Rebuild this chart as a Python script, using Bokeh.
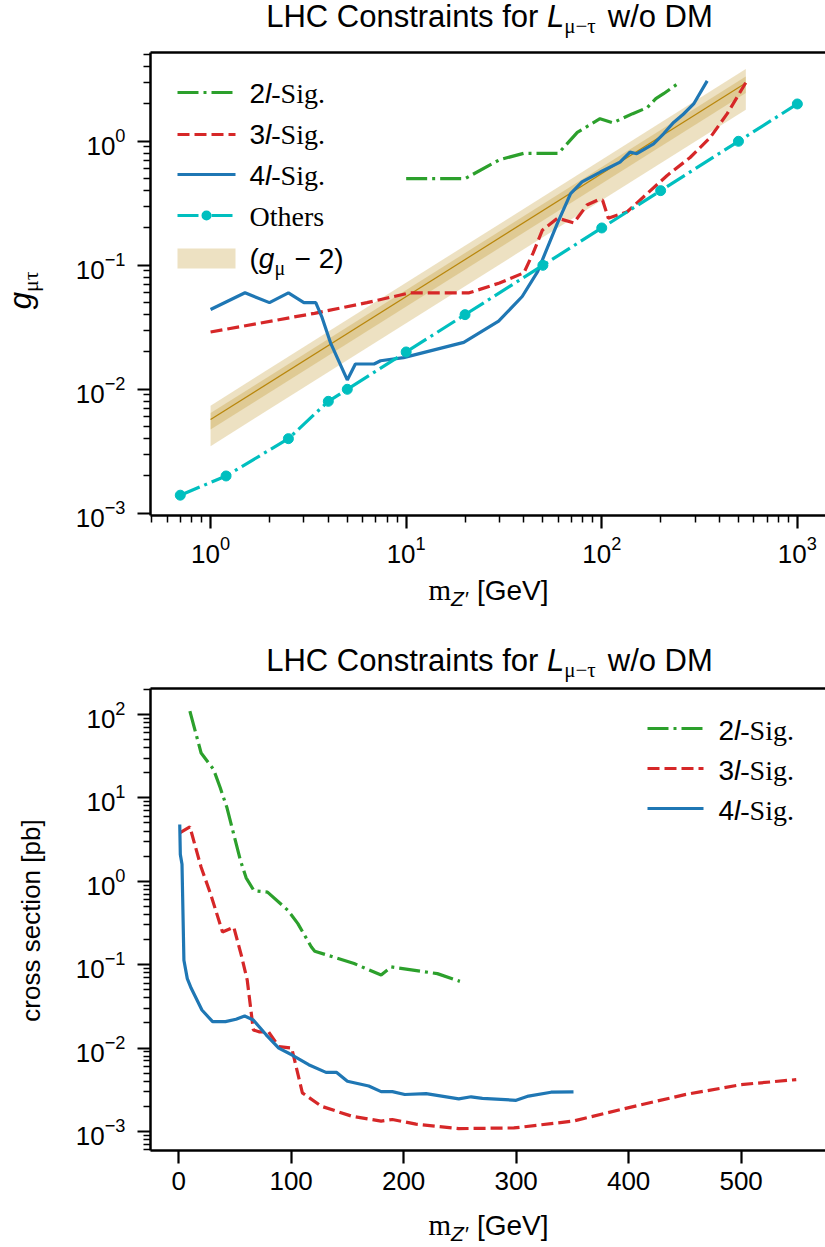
import math
from bokeh.plotting import figure
from bokeh.models import (Label, Arrow, BoxAnnotation, LogAxis, LinearAxis, FixedTicker, Range1d)
from bokeh.layouts import column, row
from bokeh.embed import file_html
from bokeh.resources import INLINE

# ---------------- data: top panel (coupling g_mu_tau vs m_Z') ----------------
top_2l_m = [10, 20, 30, 40, 60, 75, 98, 114, 144, 171, 189, 207, 248]
top_2l_g = [0.5, 0.5, 0.71, 0.8, 0.8, 1.18, 1.52, 1.41, 1.67, 1.87, 2.21, 2.42, 2.96]

top_3l_m = [1, 3.4, 6.3, 10.5, 21, 30, 40, 44.6, 49.7, 59.5, 72, 84, 95, 101, 108, 135, 171, 216, 283, 358, 438, 545]
top_3l_g = [0.029, 0.041, 0.050, 0.060, 0.060, 0.072, 0.087, 0.126, 0.192, 0.240, 0.220, 0.306, 0.335, 0.335,
            0.240, 0.270, 0.380, 0.530, 0.740, 1.07, 1.67, 2.97]

top_4l_m = [1, 1.5, 2, 2.5, 3, 3.45, 3.7, 4.1, 5, 5.5, 6.85, 7.4, 9.7, 19.7, 29.7, 39.2, 47, 59.3, 69.3, 79.3,
            98.4, 124, 139.5, 151, 184, 207, 233, 262, 295, 346]
top_4l_g = [0.044, 0.060, 0.050, 0.060, 0.050, 0.050, 0.0386, 0.0238, 0.0119, 0.016, 0.016, 0.017, 0.018, 0.0239,
            0.0354, 0.056, 0.089, 0.218, 0.379, 0.470, 0.565, 0.68, 0.818, 0.794, 0.955, 1.15, 1.42, 1.66, 2.0, 3.07]

others_m = [0.7, 1.2, 2.5, 4, 5, 10, 20, 50, 100, 200, 500, 1000]
others_g = [0.0014, 0.002, 0.004, 0.008, 0.01, 0.02, 0.04, 0.1, 0.2, 0.4, 1.0, 2.0]

gm2_m = [1, 545]
gm2_central = [0.0057, 2.95]
gm2_1s_lo = [0.00473, 2.45]
gm2_1s_hi = [0.00644, 3.33]
gm2_2s_lo = [0.00348, 1.80]
gm2_2s_hi = [0.00738, 3.82]

# ---------------- data: bottom panel (cross section vs m_Z') ----------------
bot_2l_m = [10, 20, 31, 37, 43, 55, 60, 67, 79, 97, 106, 118, 121, 156, 180, 189, 230, 250]
bot_2l_xs = [110, 34.5, 22, 13.2, 7.6, 1.76, 1.1, 0.77, 0.74, 0.45, 0.31, 0.163, 0.145, 0.103, 0.075, 0.094,
             0.078, 0.063]

bot_3l_m = [1, 10, 20, 28.5, 39, 49, 55.7, 61, 66.4, 72, 80, 89, 100.5, 110, 127, 154, 180, 190, 211, 249, 298,
            351, 393, 450, 500, 549]
bot_3l_xs = [3.8, 4.5, 1.47, 0.70, 0.246, 0.282, 0.13, 0.065, 0.0165, 0.0156, 0.0156, 0.0104, 0.0100, 0.0029,
             0.0020, 0.00152, 0.00133, 0.00139, 0.00122, 0.00108, 0.00110, 0.00133, 0.00183, 0.00276, 0.00364,
             0.00418]

bot_4l_m = [1, 1.5, 3, 4.7, 7.7, 11.2, 20.7, 30.2, 41.6, 51, 58.7, 66.4, 77.8, 89, 100.5, 115.6, 131, 140.5, 150,
            169, 180, 190, 201, 220, 249, 260, 270, 300, 311, 331, 351]
bot_4l_xs = [4.8, 2.1, 1.6, 0.113, 0.068, 0.052, 0.0286, 0.0207, 0.0207, 0.0221, 0.0242, 0.0217, 0.0144, 0.00997,
             0.0083, 0.0063, 0.0051, 0.0051, 0.0040, 0.0035, 0.0030, 0.0030, 0.00277, 0.00284, 0.00246, 0.0026,
             0.00249, 0.00236, 0.00265, 0.00295, 0.00298]

bot_x_ticks = [0, 100, 200, 300, 400, 500]

GREEN = "#2ca02c"
RED = "#d62728"
BLUE = "#1f77b4"
CYAN = "#00bfbf"
GOLD = "#b8860b"
DASHDOT = "21 5 3 5"
DASHED = "12 5"

SANS = "Liberation Sans"
SERIF = "Liberation Serif"
TICK_PX = "26px"
MID = 0.35   # distance (in em) between the alphabetic baseline and the "middle" anchor

SANS_W = {' ': 278, '(': 333, ')': 333, '-': 333, '.': 278, '/': 278, '[': 278, ']': 278, 'C': 722, 'D': 722,
          'G': 778, 'H': 722, 'L': 556, 'M': 833, 'V': 667, 'Z': 611, 'S': 667, 'a': 556, 'b': 556, 'c': 500,
          'e': 556, 'f': 278, 'g': 556, 'i': 222, 'l': 222, 'm': 833, 'n': 556, 'o': 556, 'p': 556, 'r': 333,
          's': 500, 't': 278, 'w': 722, '\u2212': 584, '\u2032': 250, '\u03bc': 576, '\u03c4': 440}
SERIF_W = {' ': 250, '-': 333, 'S': 556, 'i': 278, 'g': 500, '.': 250, 'O': 722, 't': 278, 'h': 500, 'e': 444,
           'r': 333, 's': 389, 'm': 778, '\u03bc': 620, '\u03c4': 480, '\u2212': 564}


def text_width(s, fam, size):
    table = SERIF_W if fam == "serif" else SANS_W
    return sum(table.get(ch, 556) for ch in s) / 1000.0 * size


def rich_text(p, pieces, x, y, align="center", vertical=False):
    """pieces: (text, family, style, size_px, baseline_shift_down_px); (x, y) = baseline start in canvas px."""
    widths = [text_width(t, fam, sz) for (t, fam, st, sz, sh) in pieces]
    total = sum(widths)
    pos = -total / 2.0 if align == "center" else 0.0
    for (t, fam, st, sz, sh), w in zip(pieces, widths):
        font = SERIF if fam == "serif" else SANS
        up = sh - MID * sz
        if vertical:
            lx, ly, ang = x + up, y - pos, math.pi / 2
        else:
            lx, ly, ang = x + pos, y + up, 0.0
        p.add_layout(Label(x=lx, y=ly, x_units="canvas", y_units="canvas", text=t.replace(" ", "\u00a0"),
                           text_font=font, text_font_style=st, text_font_size=f"{sz}px",
                           text_baseline="middle", text_align="left", angle=ang, text_color="black"))
        pos += w


def strip(w, h):
    s = figure(width=w, height=h, x_range=Range1d(0, w), y_range=Range1d(0, h), toolbar_location=None,
               output_backend="svg", min_border=0, x_axis_location=None, y_axis_location=None, title=None)
    s.outline_line_color = None
    s.xgrid.visible = False
    s.ygrid.visible = False
    return s


def style_axis(ax, major, minor, standoff):
    ax.ticker = FixedTicker(ticks=major, minor_ticks=minor)
    ax.axis_line_width = 2.5
    ax.axis_line_color = "black"
    ax.major_tick_line_width = 2.2
    ax.minor_tick_line_width = 1.5
    ax.major_tick_out = 13
    ax.major_tick_in = 0
    ax.minor_tick_out = 7
    ax.minor_tick_in = 0
    ax.major_label_text_font = SANS
    ax.major_label_text_font_size = TICK_PX
    ax.major_label_text_color = "black"
    ax.major_label_standoff = standoff


def decade_minors(lo, hi):
    return [k * 10.0 ** e for e in range(lo, hi) for k in range(2, 10)]


def top_spine(p, axis_cls):
    ax = axis_cls(ticker=FixedTicker(ticks=[], minor_ticks=[]), axis_line_width=2.5, axis_line_color="black",
                  major_tick_line_color=None, minor_tick_line_color=None, major_tick_out=0, minor_tick_out=0,
                  major_tick_in=0, minor_tick_in=0, major_label_standoff=0)
    p.add_layout(ax, "above")


def legend_entry(p, y_line, y_base, x0, x1, xt, color, dash, label_pieces, marker=False, patch=False):
    if patch:
        p.add_layout(BoxAnnotation(left=x0, right=x1, top=y_line - 10, bottom=y_line + 10,
                                   left_units="canvas", right_units="canvas", top_units="canvas",
                                   bottom_units="canvas", fill_color=GOLD, fill_alpha=0.25, line_color=None))
    else:
        p.add_layout(Arrow(end=None, x_start=x0, y_start=y_line, x_end=x1, y_end=y_line,
                           start_units="canvas", end_units="canvas", line_color=color, line_width=3.2,
                           line_dash=dash))
        if marker:
            xm = (x0 + x1) / 2.0
            p.add_layout(BoxAnnotation(left=xm - 5, right=xm + 5, top=y_line - 5, bottom=y_line + 5,
                                       left_units="canvas", right_units="canvas", top_units="canvas",
                                       bottom_units="canvas", fill_color=color, fill_alpha=1.0,
                                       line_color=None, border_radius=5))
    rich_text(p, label_pieces, xt, y_base, align="left")


def sig_label(n, size):
    return [(n, "sans", "normal", size, 0), ("l", "sans", "italic", size, 0), ("-Sig.", "serif", "normal", size, 0)]


def title_pieces():
    return [("LHC Constraints for ", "sans", "normal", 31, 0), ("L", "sans", "italic", 31, 0),
            ("\u03bc\u2212\u03c4", "serif", "normal", 21, 6), (" w/o DM", "sans", "normal", 31, 0)]


def xlabel_pieces():
    return [("m", "serif", "normal", 29, 0), ("Z\u2032", "sans", "italic", 21, 5),
            (" [GeV]", "sans", "normal", 28, 0)]


LEFT_W = 50           # width of the y-label strip
TOP1_H = 50           # title strip above the upper panel
TOP2_H = 61           # title strip above the lower panel
P1_H = 522            # upper plot canvas (frame 52..515, tick labels below)
X1_H = 625 - TOP1_H - P1_H
P2_H = 519            # lower plot canvas (frame 688..1150, tick labels below)
X2_H = 622 - TOP2_H - P2_H

# ============================ top panel ============================
t1 = strip(825, TOP1_H)
rich_text(t1, title_pieces(), 489, 27)

p1 = figure(width=825 - LEFT_W, height=P1_H, x_axis_type="log", y_axis_type="log",
            x_range=Range1d(0.493, 1393), y_range=Range1d(9.6e-4, 5.2),
            toolbar_location=None, output_backend="svg", title=None,
            min_border_left=150 - LEFT_W, min_border_right=0, min_border_top=2,
            min_border_bottom=P1_H - 2 - 463)
p1.outline_line_color = None
p1.xgrid.grid_line_color = None
p1.ygrid.grid_line_color = None
style_axis(p1.below[0], [1, 10, 100, 1000], decade_minors(-1, 4), 7)
style_axis(p1.left[0], [1e-3, 1e-2, 1e-1, 1], decade_minors(-4, 1), 12)
top_spine(p1, LogAxis)

p1.varea(x=gm2_m, y1=gm2_2s_lo, y2=gm2_2s_hi, fill_color=GOLD, fill_alpha=0.25)
p1.varea(x=gm2_m, y1=gm2_1s_lo, y2=gm2_1s_hi, fill_color=GOLD, fill_alpha=0.25)
p1.line(gm2_m, gm2_central, line_color=GOLD, line_width=1.2)

p1.line(top_2l_m, top_2l_g, line_color=GREEN, line_width=3.2, line_dash=DASHDOT)
p1.line(top_3l_m, top_3l_g, line_color=RED, line_width=3.2, line_dash=DASHED)
p1.line(top_4l_m, top_4l_g, line_color=BLUE, line_width=3.2)
p1.line(others_m, others_g, line_color=CYAN, line_width=3.2, line_dash=DASHDOT)
p1.scatter(others_m, others_g, size=10, fill_color=CYAN, line_color=CYAN)

ox, oy = LEFT_W, TOP1_H
LX0, LX1, LXT = 177 - ox, 235 - ox, 249 - ox
legend_entry(p1, 92 - oy, 103 - oy, LX0, LX1, LXT, GREEN, DASHDOT, sig_label("2", 28))
legend_entry(p1, 134 - oy, 144 - oy, LX0, LX1, LXT, RED, DASHED, sig_label("3", 28))
legend_entry(p1, 174 - oy, 185 - oy, LX0, LX1, LXT, BLUE, "solid", sig_label("4", 28))
legend_entry(p1, 215 - oy, 226 - oy, LX0, LX1, LXT, CYAN, DASHDOT, [("Others", "serif", "normal", 28, 0)],
             marker=True)
legend_entry(p1, 258 - oy, 268 - oy, LX0, LX1, LXT, None, None,
             [("(", "sans", "normal", 28, 0), ("g", "sans", "italic", 28, 0),
              ("\u03bc", "serif", "normal", 20, 6), (" \u2212 2)", "sans", "normal", 28, 0)], patch=True)

y1s = strip(LEFT_W, P1_H)
rich_text(y1s, [("g", "sans", "italic", 31, 0), ("\u03bc\u03c4", "serif", "normal", 22, 7)], 31, 288 - TOP1_H,
          vertical=True)

x1s = strip(825, X1_H)
rich_text(x1s, xlabel_pieces(), 488, 600 - TOP1_H - P1_H)

# ============================ bottom panel ============================
t2 = strip(825, TOP2_H)
rich_text(t2, title_pieces(), 489, 46)

p2 = figure(width=825 - LEFT_W, height=P2_H, y_axis_type="log",
            x_range=Range1d(-25, 575), y_range=Range1d(5.9e-4, 205),
            toolbar_location=None, output_backend="svg", title=None,
            min_border_left=150 - LEFT_W, min_border_right=0, min_border_top=2,
            min_border_bottom=P2_H - 2 - 462)
p2.outline_line_color = None
p2.xgrid.grid_line_color = None
p2.ygrid.grid_line_color = None
style_axis(p2.below[0], bot_x_ticks, [], 8)
style_axis(p2.left[0], [1e-3, 1e-2, 1e-1, 1, 10, 100], decade_minors(-4, 3), 12)
top_spine(p2, LinearAxis)

p2.line(bot_2l_m, bot_2l_xs, line_color=GREEN, line_width=3.2, line_dash=DASHDOT)
p2.line(bot_3l_m, bot_3l_xs, line_color=RED, line_width=3.2, line_dash=DASHED)
p2.line(bot_4l_m, bot_4l_xs, line_color=BLUE, line_width=3.2)

oy2 = 625 + TOP2_H
BX0, BX1, BXT = 647 - ox, 703 - ox, 718 - ox
legend_entry(p2, 728 - oy2, 740 - oy2, BX0, BX1, BXT, GREEN, DASHDOT, sig_label("2", 28))
legend_entry(p2, 768 - oy2, 780 - oy2, BX0, BX1, BXT, RED, DASHED, sig_label("3", 28))
legend_entry(p2, 808 - oy2, 820 - oy2, BX0, BX1, BXT, BLUE, "solid", sig_label("4", 28))

y2s = strip(LEFT_W, P2_H)
rich_text(y2s, [("cross section [pb]", "sans", "normal", 26, 0)], 40, 920 - oy2, vertical=True)

x2s = strip(825, X2_H)
rich_text(x2s, xlabel_pieces(), 488, 1235 - oy2 - P2_H)

layout = column(t1, row(y1s, p1, spacing=0), x1s, t2, row(y2s, p2, spacing=0), x2s, spacing=0)
open("out.html", "w").write(file_html(layout, INLINE))
